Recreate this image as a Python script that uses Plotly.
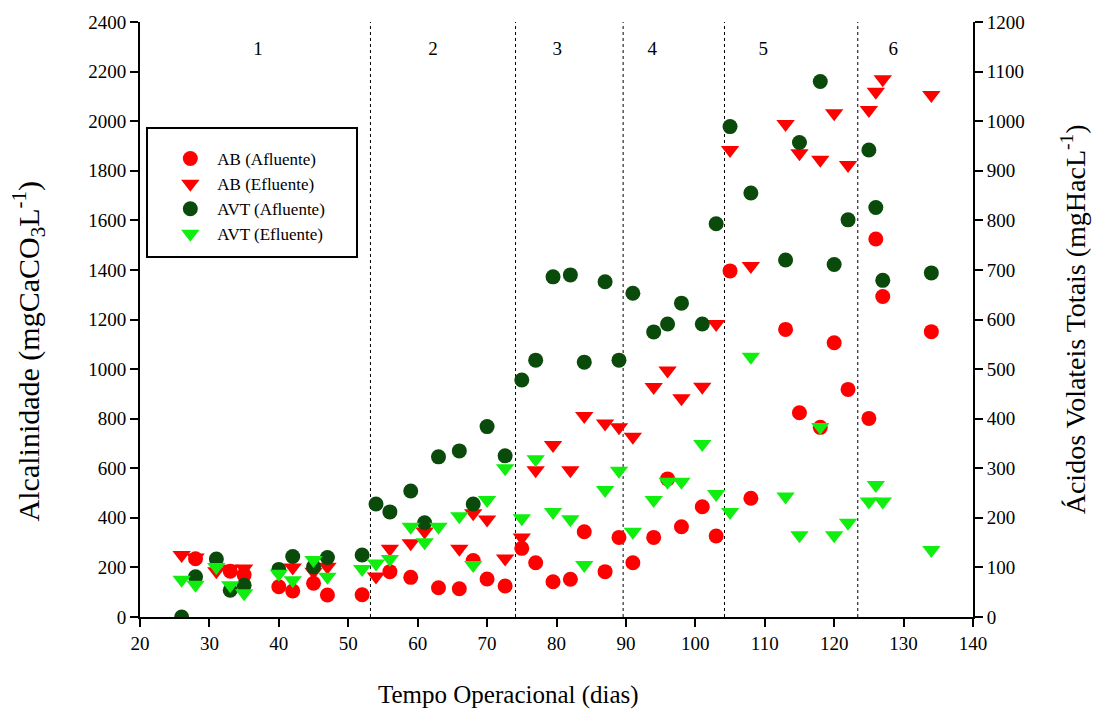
import plotly.graph_objects as go

# ---------------- data ----------------
ab_afl_dias = [28, 33, 35, 40, 42, 45, 47, 52, 56, 59, 63, 66, 68, 70, 72.6, 75, 77, 79.5, 82, 84,
               87, 89, 91, 94, 96, 98, 101, 103, 105, 108, 113, 115, 118, 120, 122, 125, 126, 127, 134]
ab_afl = [235, 185, 170, 122, 105, 136, 89, 90, 183, 160, 118, 114, 228, 153, 125, 277, 219, 142, 152, 344,
          183, 321, 219, 321, 557, 364, 445, 327, 1396, 479, 1160, 824, 765, 1106, 918, 801, 1525, 1293, 1151]

ab_efl_dias = [26, 28, 31, 33, 35, 42, 45, 47, 54, 56, 59, 61, 66, 68, 70, 72.6, 75, 77, 79.5, 82,
               84, 87, 89, 91, 94, 96, 98, 101, 103, 105, 108, 113, 115, 118, 120, 122, 125, 126, 127, 134]
ab_efl = [250, 240, 185, 195, 196, 200, 183, 203, 163, 275, 297, 345, 275, 418, 393, 236, 321, 592, 694, 592,
          811, 781, 765, 727, 928, 994, 882, 929, 1182, 1884, 1416, 1989, 1871, 1844, 2032, 1823, 2045, 2119, 2169, 2106]

avt_afl_dias = [26, 28, 31, 33, 35, 40, 42, 45, 47, 52, 54, 56, 59, 61, 63, 66, 68, 70, 72.6, 75, 77, 79.5,
                82, 84, 87, 89, 91, 94, 96, 98, 101, 103, 105, 108, 113, 115, 118, 120, 122, 125, 126, 127, 134]
avt_afl = [0, 81, 117, 54, 64, 96, 122, 101, 120, 125, 228, 212, 254, 190, 323, 335, 228, 384, 325, 478, 518, 686,
           690, 514, 676, 518, 653, 575, 591, 633, 591, 793, 989, 855, 720, 957, 1080, 711, 801, 942, 826, 679, 694]

avt_efl_dias = [26, 28, 31, 33, 35, 40, 42, 45, 47, 52, 54, 56, 59, 61, 63, 66, 68, 70, 72.6, 75, 77, 79.5,
                82, 84, 87, 89, 91, 94, 96, 98, 101, 103, 105, 108, 113, 115, 118, 120, 122, 125, 126, 127, 134]
avt_efl = [75, 65, 101, 64, 48, 87, 74, 115, 81, 97, 108, 117, 182, 151, 182, 203, 105, 236, 300, 199, 318, 212,
           197, 105, 256, 295, 172, 236, 273, 273, 349, 248, 212, 525, 243, 165, 383, 165, 190, 233, 266, 233, 135]

fases = ["1", "2", "3", "4", "5", "6"]
fases_x = [37, 62.2, 80.1, 93.8, 109.8, 128.5]
fases_y = [2287, 2287, 2287, 2287, 2287, 2287]
divisoes = [53.2, 74.1, 89.6, 104.2, 123.4]

# ---------------- style ----------------
FONT = "Liberation Serif, Times New Roman, serif"
RED = "#FF0000"
DKGREEN = "#0A4A0A"
LIME = "#10EE10"

fig = go.Figure()
fig.add_trace(go.Scatter(x=ab_afl_dias, y=ab_afl, mode="markers", name="AB (Afluente)",
                         marker=dict(symbol="circle", size=15, color=RED, line=dict(width=0))))
fig.add_trace(go.Scatter(x=ab_efl_dias, y=ab_efl, mode="markers", name="AB (Efluente)",
                         marker=dict(symbol="triangle-down", size=16, color=RED, line=dict(width=0))))
fig.add_trace(go.Scatter(x=avt_afl_dias, y=avt_afl, mode="markers", name="AVT (Afluente)", yaxis="y2",
                         marker=dict(symbol="circle", size=15, color=DKGREEN, line=dict(width=0))))
fig.add_trace(go.Scatter(x=avt_efl_dias, y=avt_efl, mode="markers", name="AVT (Efluente)", yaxis="y2",
                         marker=dict(symbol="triangle-down", size=16, color=LIME, line=dict(width=0))))

# phase numbers
fig.add_trace(go.Scatter(x=fases_x, y=fases_y, mode="text", text=fases, showlegend=False,
                         hoverinfo="skip", textfont=dict(family=FONT, size=19, color="black")))

for d in divisoes:
    fig.add_shape(type="line", xref="x", yref="paper", x0=d, x1=d, y0=0, y1=1,
                  line=dict(color="black", width=1, dash="dot"), layer="below")

# legend box
fig.add_shape(type="rect", xref="paper", yref="paper", x0=0.0084, x1=0.2605, y0=0.605, y1=0.8218,
              line=dict(color="black", width=2), fillcolor="rgba(0,0,0,0)")

# axis titles, placed as in the reference
fig.add_annotation(x=0.442, y=-0.105, xref="paper", yref="paper", text="Tempo Operacional (dias)",
                   showarrow=False, yanchor="top", font=dict(family=FONT, size=25, color="black"))
fig.add_annotation(x=-0.134, y=0.447, xref="paper", yref="paper", textangle=-90,
                   text="Alcalinidade (mgCaCO<sub>3</sub>L<sup>-1</sup>)",
                   showarrow=False, xanchor="center", yanchor="middle",
                   font=dict(family=FONT, size=30, color="black"))
fig.add_annotation(x=1.121, y=0.50, xref="paper", yref="paper", textangle=-90,
                   text="Ácidos Volateis Totais (mgHacL<sup>-1</sup>)",
                   showarrow=False, xanchor="center", yanchor="middle",
                   font=dict(family=FONT, size=28, color="black"))

axis_common = dict(showline=True, linecolor="black", linewidth=2, ticks="outside", ticklen=8,
                   tickwidth=2, tickcolor="black", showgrid=False, zeroline=False,
                   tickfont=dict(family=FONT, size=19, color="black"))

fig.update_layout(
    width=1097, height=715,
    margin=dict(l=140, r=124, t=22, b=98),
    paper_bgcolor="white", plot_bgcolor="white",
    font=dict(family=FONT, color="black"),
    xaxis=dict(range=[20, 140], dtick=10, tick0=20, automargin=False, **axis_common),
    yaxis=dict(range=[0, 2400], dtick=200, tick0=0, automargin=False, **axis_common),
    yaxis2=dict(range=[0, 1200], dtick=100, tick0=0, overlaying="y", side="right",
                automargin=False, **axis_common),
    showlegend=True,
    legend=dict(x=0.028, y=0.80, xanchor="left", yanchor="top", bgcolor="rgba(0,0,0,0)",
                borderwidth=0, font=dict(family=FONT, size=17, color="black"), itemwidth=44),
)

fig.write_html("out.html")
